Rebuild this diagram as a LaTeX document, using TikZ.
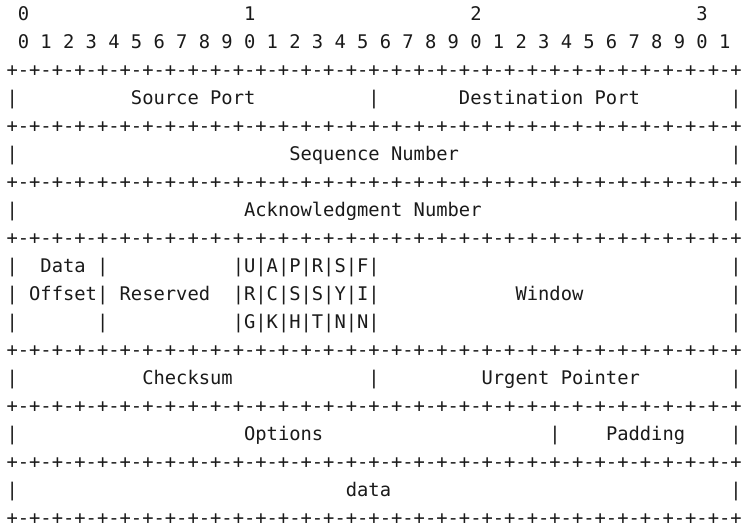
\documentclass[tikz,border=0pt]{standalone}
\usepackage{fontspec}
\setmonofont{DejaVu Sans Mono}
\definecolor{ink}{HTML}{1A1A1A}
\newcommand{\ruleseg}{-+-+-+-+-+-+-+-+}
\newcommand{\borderrow}{+\ruleseg\ruleseg\ruleseg\ruleseg}

\begin{document}
\begin{tikzpicture}[
    x=8.4825pt,
    y=-21pt,
    font=\ttfamily\fontsize{14.09}{16}\selectfont,
    text=ink,
    cell/.style={anchor=west, inner sep=0pt, text height=0.73em, text depth=0pt},
    border/.style={cell},
    field/.style={cell}
]
\useasboundingbox (-4.725pt,11.625pt) rectangle (551.775pt,-383.625pt);

% Bit numbering.
\node[cell] (oct0) at (1,0) {0};
\node[cell] (oct1) at (21,0) {1};
\node[cell] (oct2) at (41,0) {2};
\node[cell] (oct3) at (61,0) {3};
\node[cell] (bits) at (1,1) {0 1 2 3 4 5 6 7 8 9 0 1 2 3 4 5 6 7 8 9 0 1 2 3 4 5 6 7 8 9 0 1};

% Horizontal borders between the words.
\node[border] (rule0) at (0,2) {\borderrow};
\node[border] (rule1) at (0,4) {\borderrow};
\node[border] (rule2) at (0,6) {\borderrow};
\node[border] (rule3) at (0,8) {\borderrow};
\node[border] (rule4) at (0,12) {\borderrow};
\node[border] (rule5) at (0,14) {\borderrow};
\node[border] (rule6) at (0,16) {\borderrow};
\node[border] (rule7) at (0,18) {\borderrow};

% Ports.
\node[cell] (barA0) at (0,3) {|};
\node[field] (srcport) at (11,3) {Source Port};
\node[cell] (barA1) at (32,3) {|};
\node[field] (dstport) at (40,3) {Destination Port};
\node[cell] (barA2) at (64,3) {|};

% Sequence and acknowledgment numbers.
\node[cell] (barB0) at (0,5) {|};
\node[field] (seqnum) at (25,5) {Sequence Number};
\node[cell] (barB1) at (64,5) {|};

\node[cell] (barC0) at (0,7) {|};
\node[field] (acknum) at (21,7) {Acknowledgment Number};
\node[cell] (barC1) at (64,7) {|};

% Offset, reserved bits, control flags and window.
\node[cell] (barD0) at (0,9) {|};
\node[field] (offset1) at (3,9) {Data};
\node[cell] (barD1) at (8,9) {|};
\node[field] (flags1) at (20,9) {|U|A|P|R|S|F|};
\node[cell] (barD2) at (64,9) {|};

\node[cell] (barE0) at (0,10) {|};
\node[field] (offset2) at (2,10) {Offset};
\node[cell] (barE1) at (8,10) {|};
\node[field] (reserved) at (10,10) {Reserved};
\node[field] (flags2) at (20,10) {|R|C|S|S|Y|I|};
\node[field] (window) at (45,10) {Window};
\node[cell] (barE2) at (64,10) {|};

\node[cell] (barF0) at (0,11) {|};
\node[cell] (barF1) at (8,11) {|};
\node[field] (flags3) at (20,11) {|G|K|H|T|N|N|};
\node[cell] (barF2) at (64,11) {|};

% Checksum and urgent pointer.
\node[cell] (barG0) at (0,13) {|};
\node[field] (checksum) at (12,13) {Checksum};
\node[cell] (barG1) at (32,13) {|};
\node[field] (urgent) at (42,13) {Urgent Pointer};
\node[cell] (barG2) at (64,13) {|};

% Options, padding and payload.
\node[cell] (barH0) at (0,15) {|};
\node[field] (options) at (21,15) {Options};
\node[cell] (barH1) at (48,15) {|};
\node[field] (padding) at (53,15) {Padding};
\node[cell] (barH2) at (64,15) {|};

\node[cell] (barI0) at (0,17) {|};
\node[field] (payload) at (30,17) {data};
\node[cell] (barI1) at (64,17) {|};

\end{tikzpicture}
\end{document}
